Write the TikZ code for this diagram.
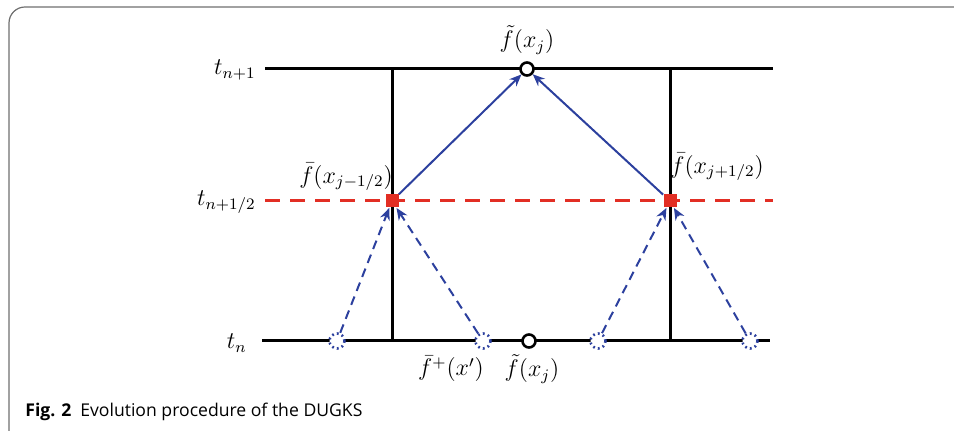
\documentclass[tikz,border=0pt]{standalone}
\usepackage{fontspec}
\setsansfont{Open Sans}
\usetikzlibrary{arrows.meta}
\definecolor{dugksred}{RGB}{226,46,36}
\definecolor{dugksblue}{RGB}{44,64,158}
\definecolor{framegray}{RGB}{110,110,110}
\tikzset{
  timeline/.style={line width=1.5pt},
  halfline/.style={line width=1.5pt, dugksred, dash pattern=on 7.5pt off 5pt},
  cellwall/.style={line width=1.5pt},
  gridpt/.style={circle, draw, line width=1.3pt, fill=white, minimum size=6.5pt, inner sep=0pt},
  upwind/.style={circle, draw=dugksblue, line width=1.3pt, dash pattern=on 0.9pt off 1.6pt, fill=white, minimum size=7.5pt, inner sep=0pt},
  facept/.style={rectangle, fill=dugksred, minimum size=6.5pt, inner sep=0pt},
  flux/.style={dugksblue, line width=1pt, -{Stealth[length=6pt,width=5pt]}},
  fluxback/.style={flux, dash pattern=on 4.5pt off 3pt},
  lbl/.style={font=\large, inner sep=0.5pt}
}
\begin{document}
\begin{tikzpicture}[x=0.5pt,y=-0.5pt]
\useasboundingbox (0,0) rectangle (954,431);
% frame
\draw[framegray, line width=0.6pt, rounded corners=8pt] (9,431) -- (9,7) -- (960,7);
% time levels
\coordinate (a1) at (265,69);
\coordinate (b1) at (773,69);
\coordinate (a2) at (265,201);
\coordinate (b2) at (773,201);
\coordinate (a3) at (262,341);
\coordinate (b3) at (770,341);
\draw[timeline] (a1) -- (b1);
\draw[timeline] (a3) -- (b3);
% cell walls
\coordinate (wl1) at (392,69);
\coordinate (wl3) at (392,341);
\coordinate (wr1) at (670,69);
\coordinate (wr3) at (670,341);
\draw[cellwall] (wl1) -- (wl3);
\draw[cellwall] (wr1) -- (wr3);
\draw[halfline] (a2) -- (b2);
% points
\node[gridpt] (ftop) at (527,69) {};
\node[gridpt] (fbot) at (529,341) {};
\node[facept] (sl) at (392,201) {};
\node[facept] (sr) at (670,201) {};
\node[upwind] (u1) at (337,341) {};
\node[upwind] (u2) at (483,341) {};
\node[upwind] (u3) at (598,341) {};
\node[upwind] (u4) at (750,341) {};
% labels
\node[lbl, anchor=east] (ln1) at (257,70) {$t_{n+1}$};
\node[lbl, anchor=east] (ln2) at (257,202) {$t_{n+1/2}$};
\node[lbl, anchor=east] (ln3) at (248,343) {$t_{n}$};
\node[lbl] (lftop) at (527,40) {$\tilde{f}(x_j)$};
\node[lbl] (lsl) at (346,177) {$\bar{f}(x_{j-1/2})$};
\node[lbl] (lsr) at (717,167) {$\bar{f}(x_{j+1/2})$};
\node[lbl] (lu) at (451,369) {$\bar{f}^{+}(x')$};
\node[lbl] (lfbot) at (532,369) {$\tilde{f}(x_j)$};
% fluxes
\draw[flux] (sl) -- (ftop);
\draw[flux] (sr) -- (ftop);
\draw[fluxback] (u1) -- (sl);
\draw[fluxback] (u2) -- (sl);
\draw[fluxback] (u3) -- (sr);
\draw[fluxback] (u4) -- (sr);
% caption
\node[anchor=base west, inner sep=0pt, font=\sffamily\fontsize{8.8}{10}\selectfont] (cap) at (25,417) {\textbf{Fig. 2}\enspace Evolution procedure of the DUGKS};
\end{tikzpicture}
\end{document}
